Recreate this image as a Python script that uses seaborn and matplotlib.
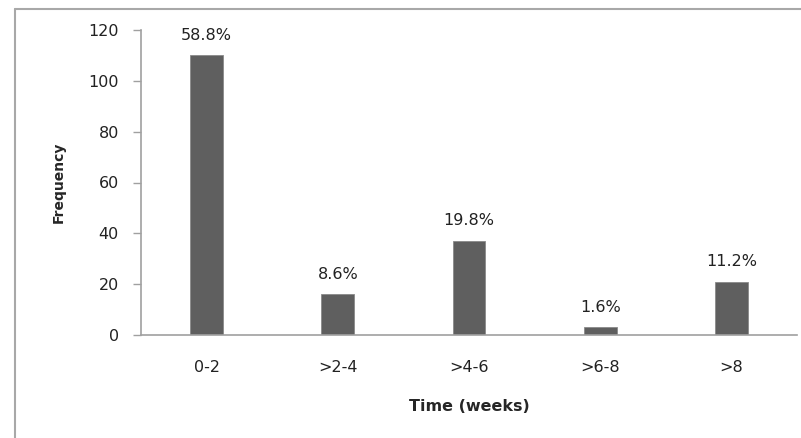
import matplotlib
matplotlib.use("Agg")
import matplotlib.pyplot as plt
import seaborn as sns
import pandas as pd
from matplotlib.lines import Line2D

categories = ["0-2", ">2-4", ">4-6", ">6-8", ">8"]
frequency = [110, 16, 37, 3, 21]
pct_labels = ["58.8%", "8.6%", "19.8%", "1.6%", "11.2%"]
y_ticks = [0, 20, 40, 60, 80, 100, 120]

sns.set_theme(style="white")
plt.rcParams["font.family"] = ["DejaVu Sans"]

df = pd.DataFrame({"Time": categories, "Frequency": frequency})

W, H = 801, 438
fig = plt.figure(figsize=(W / 100, H / 100), dpi=100)
fig.patch.set_facecolor("white")
ax = fig.add_axes([141 / W, 1 - 335 / H, (797 - 141) / W, (335 - 30) / H])

sns.barplot(data=df, x="Time", y="Frequency", ax=ax, color="#5f5f5f",
            width=0.25, saturation=1, edgecolor="#8a8a8a", linewidth=0.6)

ax.set_xlim(-0.5, 4.5)
ax.set_ylim(0, 120)
ax.set_yticks(y_ticks)
ax.set_yticklabels([str(v) for v in y_ticks], fontsize=11.5, color="#222222")
ax.tick_params(axis="x", length=0, labelsize=11.5, labelcolor="#222222", pad=18)
ax.tick_params(axis="y", length=6, width=1, color="#a0a0a0", direction="out",
               left=True, pad=10)
for s in ["top", "right"]:
    ax.spines[s].set_visible(False)
for s in ["left", "bottom"]:
    ax.spines[s].set_color("#a0a0a0")
    ax.spines[s].set_linewidth(1.2)

for i, (v, lab) in enumerate(zip(frequency, pct_labels)):
    ax.annotate(lab, (i, v), xytext=(0, 9), textcoords="offset points",
                ha="center", va="bottom", fontsize=11.5, color="#222222")

ax.set_xlabel("Time (weeks)", fontsize=11.5, fontweight="bold", labelpad=17)
ax.set_ylabel("Frequency", fontsize=10, fontweight="bold", labelpad=16)

# outer chart border (left and top edges visible)
fig.add_artist(Line2D([15 / W, 15 / W], [0, 1 - 9 / H], transform=fig.transFigure,
                      color="#a8a8a8", linewidth=1.5))
fig.add_artist(Line2D([15 / W, 1], [1 - 9 / H, 1 - 9 / H], transform=fig.transFigure,
                      color="#a8a8a8", linewidth=1.5))

fig.savefig("out.png", dpi=100, facecolor="white")
